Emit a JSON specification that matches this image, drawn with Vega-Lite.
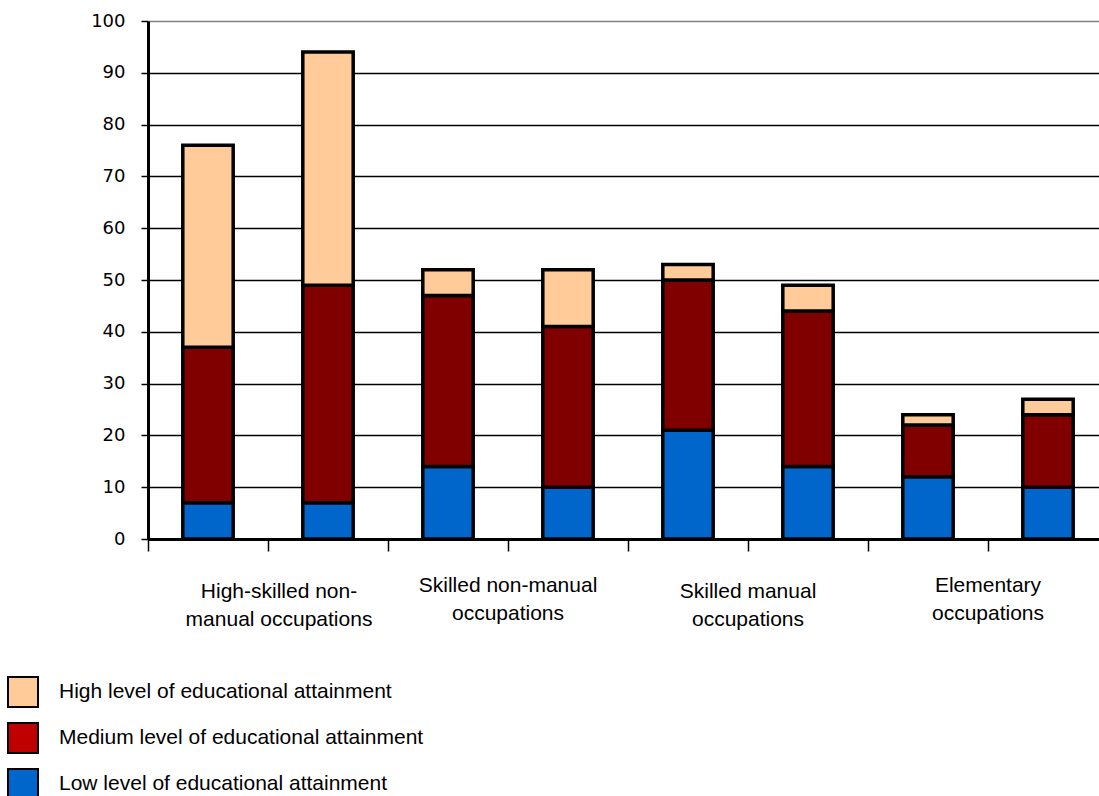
{
  "$schema": "https://vega.github.io/schema/vega-lite/v6.json",
  "width": 951,
  "height": 518,
  "autosize": {"type": "none"},
  "padding": {"left": 148, "top": 21, "right": 0, "bottom": 257},
  "background": "white",
  "config": {"view": {"stroke": null}},
  "data": {
    "values": [
      {"bar": "A1", "level": "Low level of educational attainment", "rank": 1, "value": 7},
      {"bar": "A1", "level": "Medium level of educational attainment", "rank": 2, "value": 30},
      {"bar": "A1", "level": "High level of educational attainment", "rank": 3, "value": 39},
      {"bar": "A2", "level": "Low level of educational attainment", "rank": 1, "value": 7},
      {"bar": "A2", "level": "Medium level of educational attainment", "rank": 2, "value": 42},
      {"bar": "A2", "level": "High level of educational attainment", "rank": 3, "value": 45},
      {"bar": "B1", "level": "Low level of educational attainment", "rank": 1, "value": 14},
      {"bar": "B1", "level": "Medium level of educational attainment", "rank": 2, "value": 33},
      {"bar": "B1", "level": "High level of educational attainment", "rank": 3, "value": 5},
      {"bar": "B2", "level": "Low level of educational attainment", "rank": 1, "value": 10},
      {"bar": "B2", "level": "Medium level of educational attainment", "rank": 2, "value": 31},
      {"bar": "B2", "level": "High level of educational attainment", "rank": 3, "value": 11},
      {"bar": "C1", "level": "Low level of educational attainment", "rank": 1, "value": 21},
      {"bar": "C1", "level": "Medium level of educational attainment", "rank": 2, "value": 29},
      {"bar": "C1", "level": "High level of educational attainment", "rank": 3, "value": 3},
      {"bar": "C2", "level": "Low level of educational attainment", "rank": 1, "value": 14},
      {"bar": "C2", "level": "Medium level of educational attainment", "rank": 2, "value": 30},
      {"bar": "C2", "level": "High level of educational attainment", "rank": 3, "value": 5},
      {"bar": "D1", "level": "Low level of educational attainment", "rank": 1, "value": 12},
      {"bar": "D1", "level": "Medium level of educational attainment", "rank": 2, "value": 10},
      {"bar": "D1", "level": "High level of educational attainment", "rank": 3, "value": 2},
      {"bar": "D2", "level": "Low level of educational attainment", "rank": 1, "value": 10},
      {"bar": "D2", "level": "Medium level of educational attainment", "rank": 2, "value": 14},
      {"bar": "D2", "level": "High level of educational attainment", "rank": 3, "value": 3}
    ]
  },
  "encoding": {
    "x": {
      "field": "bar",
      "type": "nominal",
      "sort": ["A1", "A2", "B1", "B2", "C1", "C2", "D1", "D2"],
      "scale": {"paddingInner": 0, "paddingOuter": 0, "range": [0, 960]},
      "axis": {
        "title": null,
        "bandPosition": 0,
        "grid": false,
        "domainColor": "black",
        "domainWidth": 3,
        "tickColor": "black",
        "tickWidth": 1.5,
        "tickSize": 12,
        "labelAngle": 0,
        "labelPadding": {"condition": {"test": "datum.value == 'B2' || datum.value == 'D2'", "value": 23}, "value": 29},
        "labelOffset": {"condition": {"test": "datum.value == 'A2'", "value": -49}, "value": -60},
        "labelFont": "Liberation Sans",
        "labelFontSize": 21,
        "labelColor": "black",
        "labelLineHeight": 28,
        "labelLimit": 400,
        "labelOverlap": false,
        "labelBound": false,
        "labelFlush": false,
        "labelExpr": "datum.value == 'A2' ? ['High-skilled non-', 'manual occupations'] : datum.value == 'B2' ? ['Skilled non-manual', 'occupations'] : datum.value == 'C2' ? ['Skilled manual', 'occupations'] : datum.value == 'D2' ? ['Elementary', 'occupations'] : ''"
      }
    },
    "y": {
      "field": "value",
      "type": "quantitative",
      "stack": "zero",
      "scale": {"domain": [0, 100], "nice": false},
      "axis": {
        "title": null,
        "values": [0, 10, 20, 30, 40, 50, 60, 70, 80, 90, 100],
        "grid": true,
        "gridColor": {"condition": {"test": "datum.value == 100", "value": "#808080"}, "value": "black"},
        "gridWidth": 1.5,
        "gridOpacity": 1,
        "domainColor": "black",
        "domainWidth": 3,
        "tickColor": "black",
        "tickWidth": 1.5,
        "tickSize": 7,
        "labelPadding": 16,
        "labelFont": "DejaVu Sans",
        "labelFontSize": 18,
        "labelColor": "black"
      }
    },
    "order": {"field": "rank", "type": "quantitative"}
  },
  "layer": [
    {
      "mark": {"type": "bar", "width": {"band": 0.42}, "opacity": 0},
      "encoding": {
        "fill": {
          "field": "level",
          "type": "nominal",
          "scale": {
            "domain": ["High level of educational attainment", "Medium level of educational attainment", "Low level of educational attainment"],
            "range": ["#FFCC99", "#C00000", "#0066CC"]
          },
          "legend": {
            "title": null,
            "orient": "none",
            "legendX": -141,
            "legendY": 655,
            "direction": "vertical",
            "padding": 0,
            "symbolType": "square",
            "symbolSize": 900,
            "symbolStrokeColor": "black",
            "symbolStrokeWidth": 2,
            "symbolOpacity": 1,
            "labelFont": "Liberation Sans",
            "labelFontSize": 21,
            "labelColor": "black",
            "labelOffset": 20,
            "labelLimit": 700,
            "rowPadding": 8,
            "encode": {
              "symbols": {
                "update": {
                  "opacity": {"value": 1},
                  "fillOpacity": {"value": 1},
                  "stroke": {"value": "black"},
                  "strokeWidth": {"value": 2}
                }
              }
            }
          }
        }
      }
    },
    {
      "mark": {"type": "bar", "width": {"band": 0.42}, "stroke": "black", "strokeWidth": 3.5, "opacity": 1},
      "encoding": {
        "color": {
          "field": "level",
          "type": "nominal",
          "scale": {
            "domain": ["High level of educational attainment", "Medium level of educational attainment", "Low level of educational attainment"],
            "range": ["#FFCC99", "#800000", "#0066CC"]
          },
          "legend": null
        }
      }
    }
  ]
}
